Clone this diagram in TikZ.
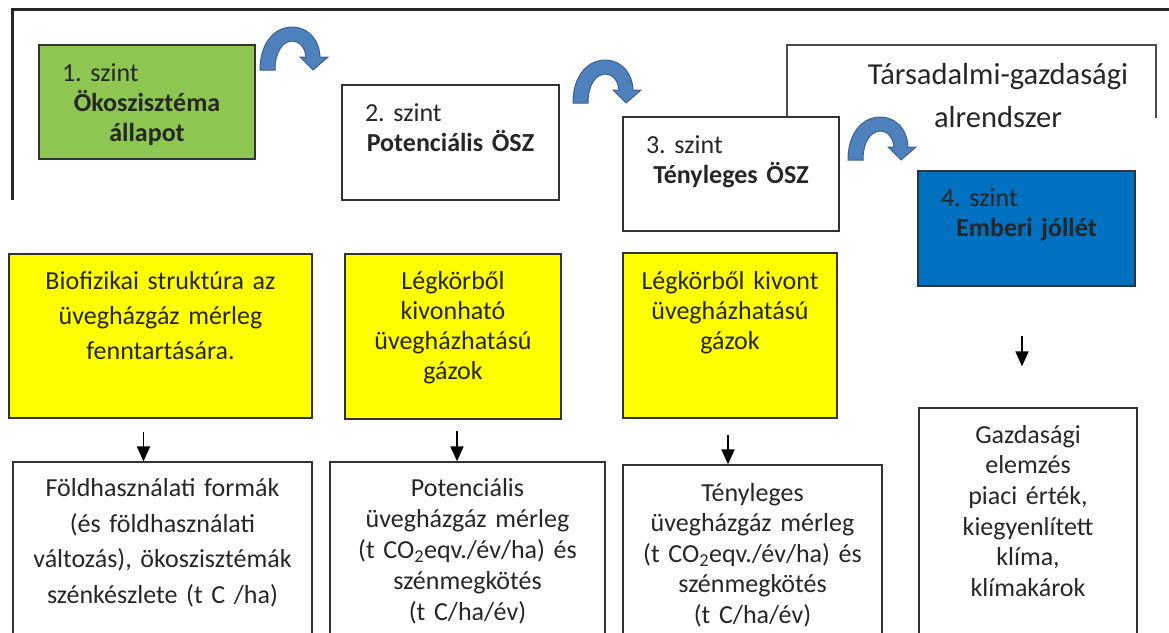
\documentclass[tikz,border=0pt]{standalone}
\usepackage{fontspec}
\setmainfont{Carlito}
\usepackage{xcolor}
\usetikzlibrary{arrows.meta}
\frenchspacing

\definecolor{lvlgreen}{HTML}{8DC650}
\definecolor{lvlblue}{HTML}{0070C0}
\definecolor{ghgyellow}{HTML}{FFFF00}
\definecolor{arrblue}{HTML}{4F81BD}
\definecolor{arredge}{HTML}{3A5F8F}
\definecolor{txtgray}{HTML}{262626}

\tikzset{
    box/.style={draw=black!80, line width=1.3pt, inner sep=0pt},
    txt/.style={inner sep=0pt, align=center, text=txtgray, anchor=base},
    down/.style={-{Triangle[width=13pt,length=15pt]}, line width=1.8pt},
    bendarr/.style={fill=arrblue, draw=arredge, line width=1pt},
}

\newcommand{\bendarrow}[1]{%
    \filldraw[bendarr, shift={#1}] (0,0) .. controls (0,-55) and (58,-55) .. (60,-13)
        -- (68,-13) -- (53,0) -- (40,-13) -- (46,-13)
        .. controls (44,-36) and (15,-36) .. (15,0) -- cycle;}

\begin{document}
\begin{tikzpicture}[x=1pt, y=-1pt]
    \useasboundingbox (0,0) rectangle (1169,632);
    \clip (0,0) rectangle (1169,632);

    \draw[line width=3pt, black!85] (12,200) |- (1180,9);
    \draw[line width=1.3pt, black!70] (787,117) |- (1156,45) -- (1156,118);
    \node[txt, text width=360pt, font=\fontsize{30.5}{43}\selectfont] (soc) at (998,84) {Társadalmi-gazdasági\\alrendszer};

    \node[box, fill=lvlgreen, minimum width=216pt, minimum height=114pt] (l1) at (147,102) {};
    \node[box, fill=white, minimum width=217pt, minimum height=115pt] (l2) at (450.5,142.5) {};
    \node[box, fill=white, minimum width=216pt, minimum height=114pt] (l3) at (731,174) {};
    \node[box, fill=lvlblue, minimum width=217pt, minimum height=115pt] (l4) at (1026.5,228.5) {};

    \node[txt, text width=170pt, font=\fontsize{26}{30}\selectfont] (t1) at ([yshift=-37pt]l1.north)
        {\hbox to \linewidth{1. szint\hfil}\\\textbf{Ökoszisztéma}\\\textbf{állapot}};
    \node[txt, text width=171pt, font=\fontsize{26}{30}\selectfont] (t2) at ([yshift=-37pt]l2.north)
        {\hbox to \linewidth{2. szint\hfil}\\\textbf{Potenciális ÖSZ}};
    \node[txt, text width=170pt, font=\fontsize{26}{30}\selectfont] (t3) at ([yshift=-37pt]l3.north)
        {\hbox to \linewidth{3. szint\hfil}\\\textbf{Tényleges ÖSZ}};
    \node[txt, text width=171pt, font=\fontsize{26}{30}\selectfont] (t4) at ([yshift=-36pt]l4.north)
        {\hbox to \linewidth{4. szint\hfil}\\\textbf{Emberi jóllét}};

    \bendarrow{(260,70)}
    \bendarrow{(573,103)}
    \bendarrow{(848,160)}

    \node[box, fill=ghgyellow, minimum width=303pt, minimum height=164pt] (y1) at (160.5,336) {};
    \node[box, fill=ghgyellow, minimum width=216pt, minimum height=165pt] (y2) at (453,336.5) {};
    \node[box, fill=ghgyellow, minimum width=214pt, minimum height=165pt] (y3) at (730,335.5) {};

    \node[txt, text width=290pt, font=\fontsize{26}{35}\selectfont] (g1) at ([yshift=-36pt]y1.north)
        {Biofizikai struktúra az\\üvegházgáz mérleg\\fenntartására.};
    \node[txt, text width=210pt, font=\fontsize{26}{30}\selectfont] (g2) at ([yshift=-36pt]y2.north)
        {Légkörből\\kivonható\\üvegházhatású\\gázok};
    \node[txt, text width=210pt, font=\fontsize{26}{30}\selectfont] (g3) at ([yshift=-37pt]y3.north)
        {Légkörből kivont\\üvegházhatású\\gázok};

    \node[box, fill=white, minimum width=299pt, minimum height=188pt] (b1) at (162.5,556) {};
    \node[box, fill=white, minimum width=275pt, minimum height=188pt] (b2) at (467.5,556) {};
    \node[box, fill=white, minimum width=259pt, minimum height=185pt] (b3) at (752.5,557.5) {};
    \node[box, fill=white, minimum width=218pt, minimum height=242pt] (b4) at (1028,529) {};

    \node[txt, text width=295pt, font=\fontsize{26}{35.7}\selectfont] (r1) at ([yshift=-35pt]b1.north)
        {Földhasználati formák\\(és földhasználati\\változás), ökoszisztémák\\szénkészlete (t C /ha)};
    \node[txt, text width=270pt, font=\fontsize{26}{31}\selectfont] (r2) at ([yshift=-35pt]b2.north)
        {Potenciális\\üvegházgáz mérleg\\(t CO\textsubscript{2}eqv./év/ha) és\\szénmegkötés\\(t C/ha/év)};
    \node[txt, text width=255pt, font=\fontsize{26}{30.5}\selectfont] (r3) at ([yshift=-37pt]b3.north)
        {Tényleges\\üvegházgáz mérleg\\(t CO\textsubscript{2}eqv./év/ha) és\\szénmegkötés\\(t C/ha/év)};
    \node[txt, text width=215pt, font=\fontsize{26}{30.6}\selectfont] (r4) at ([yshift=-36pt]b4.north)
        {Gazdasági\\elemzés\\piaci érték,\\kiegyenlített\\klíma,\\klímakárok};

    \draw[down] ([xshift=-17pt,yshift=-13pt]y1.south) -- ([xshift=-17pt]y1.south |- b1.north);
    \draw[down] ([xshift=4pt,yshift=-11pt]y2.south) -- ([xshift=4pt]y2.south |- b2.north);
    \draw[down] ([xshift=-2pt,yshift=-16pt]y3.south) -- ([xshift=-2pt]y3.south |- b3.north);
    \draw[down] ([xshift=-4.5pt,yshift=-49pt]l4.south) -- ([xshift=-6pt,yshift=41pt]b4.north);
\end{tikzpicture}
\end{document}
